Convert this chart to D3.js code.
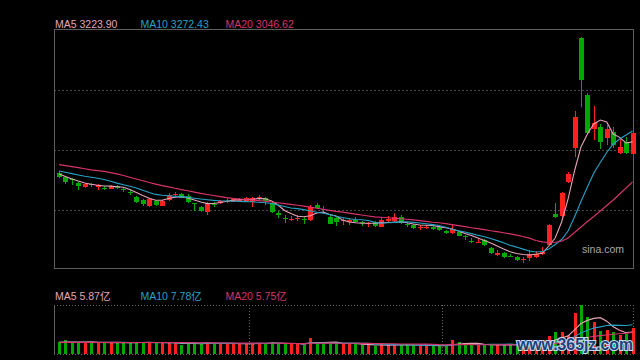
<!DOCTYPE html>
<html><head><meta charset="utf-8">
<script src="https://cdn.jsdelivr.net/npm/d3@7"></script>
<style>html,body{margin:0;padding:0;background:#000;}svg{display:block;}</style>
</head><body>
<svg id="c" width="640" height="360"></svg>
<script>
// ---- data ----
const days = d3.range(90);
const open = [
3086,3068,3060,3042,3026,3037,3024,3020,3017,3029,
3015,3002,2980,2967,2942,2960,2940,2967,2989,2993,
2984,2953,2935,2915,2951,2952,2958,2959,2963,2963,
2958,2971,2975,2953,2907,2887,2880,2884.5,2882,2878,
2944,2927,2893,2885,2873,2869,2880,2869,2860,2869,
2849,2873,2873,2891,2862,2856,2845,2842.5,2847,2845,
2827,2820,2825,2807,2785,2776,2789,2754,2723,2732,
2720.6,2714,2701,2710,2714,2727,2767,2904.5,2896,3046,
3197,3684,3432,3281,3290,3241,3268,3175,3223,3170];
const high = [
3095,3073,3064,3046,3042,3042,3037,3029,3033,3033,
3024,3011,2984,2971,2975,2967,2967,2998,3003,2998,
2993,2955,2940,2958,2959,2966.5,2974,2975,2974,2980,
2980,2989,2980,2958,2918,2900,2896,2900,2891,2944,
2953,2940,2904,2896,2887,2887,2891,2873,2869,2873,
2891,2896,2909,2900,2869,2860,2856,2856,2851,2851,
2834,2862,2829,2811.5,2798,2794,2794,2758,2745,2736,
2727,2718,2714,2745,2741,2758,2860,2953,3002,3091,
3361,3689,3441,3383,3303,3299,3290,3241,3246,3317];
const low = [
3064,3037,3033,3011,3020,3024,3013,3011,3015,3015,
3002,2989,2955,2940,2935,2942,2938,2964,2984,2975,
2955,2919,2915,2900,2937,2949,2955,2958,2959,2962,
2935,2966.5,2944,2911,2887,2865,2873,2873,2860,2873,
2927,2909,2858,2851,2856,2856,2865,2851,2847,2847,
2847,2869,2869,2860,2847,2840,2834,2838,2834,2829,
2816,2816,2805,2789,2776,2774,2763,2727,2718,2710,
2714,2696,2687,2696,2710,2723,2763,2887,2891,3042,
3157,3379,3259,3232,3192,3210,3197,3170,3170,3153];
const close = [
3068,3046,3055,3029,3037,3031,3033,3017,3029,3020,
3009,2998,2958,2951,2971,2944,2960,2989,2993,2977,
2959,2949,2919,2954,2947,2962,2963,2970,2968,2974,
2976,2978,2962,2913,2900,2882,2884.5,2889,2878,2936,
2931,2922,2860,2869,2878,2878,2869,2865,2865,2851,
2878,2882,2891,2865,2858,2842.5,2849,2849,2838,2834,
2822.5,2838,2807,2803,2780,2780,2767,2732,2732,2714,
2716,2701,2705,2727,2727,2736,2856,2893,2998,3082,
3334,3498,3263,3308,3223,3281,3210,3201,3175,3263];
const ma5 = [
3081.7,3070.6,3059.5,3050.7,3041.8,3036.1,3031.7,3028.5,3028.1,3025.4,
3022.8,3013.0,2999.7,2986.4,2974.0,2965.2,2965.2,2973.1,2978.9,2981.1,
2975.4,2966.5,2957.6,2950.6,2951.0,2955.4,2961.2,2965.6,2968.3,2967.4,
2969.6,2973.1,2971.8,2962.1,2944.3,2920.0,2906.7,2894.3,2892.5,2896.5,
2908.9,2913.3,2902.3,2895.6,2877.9,2869.0,2865.5,2863.7,2863.3,2863.7,
2865.5,2866.8,2868.1,2869.9,2865.5,2860.2,2855.8,2854.9,2853.5,2848.2,
2843.3,2838.0,2829.2,2818.1,2809.3,2798.2,2787.1,2776.0,2762.7,2749.4,
2737.5,2729.5,2725.1,2722.9,2726.4,2730.4,2762.7,2798.2,2869.0,2970.9,
3095.0,3201.3,3258.9,3303.2,3320.9,3312.0,3258.9,3243.9,3219.0,3223.9];
const ma10 = [
3095.0,3089.2,3083.5,3077.3,3071.5,3067.1,3063.1,3057.3,3049.4,3041.4,
3034.3,3027.6,3020.1,3009.5,2999.7,2991.3,2987.3,2985.1,2983.3,2981.6,
2978.0,2974.5,2970.9,2967.8,2964.7,2963.0,2962.1,2961.2,2960.3,2959.4,
2958.5,2956.3,2954.1,2951.0,2944.3,2937.7,2931.1,2928.4,2924.0,2917.8,
2912.0,2908.0,2902.3,2894.7,2889.0,2883.2,2880.1,2878.8,2875.7,2867.7,
2863.7,2865.5,2867.3,2869.0,2869.9,2867.3,2864.6,2861.1,2857.5,2853.5,
2846.0,2837.1,2829.6,2824.7,2817.6,2810.6,2803.5,2796.4,2786.6,2776.9,
2765.8,2757.9,2749.0,2740.6,2736.1,2738.4,2749.4,2769.4,2791.5,2829.2,
2891.2,2959.9,3024.1,3086.1,3132.6,3176.9,3214.6,3236.7,3254.5,3272.43];
const ma20 = [
3123.3,3118.9,3114.5,3110.0,3104.7,3099.8,3096.7,3093.2,3087.9,3082.1,
3075.0,3067.5,3059.5,3051.5,3044.0,3036.9,3030.3,3024.5,3018.8,3012.6,
3007.3,3001.5,2995.7,2990.9,2986.4,2981.6,2977.1,2973.6,2970.9,2968.7,
2966.5,2963.9,2960.8,2957.6,2954.1,2950.6,2947.0,2943.0,2939.5,2935.0,
2930.2,2925.3,2920.4,2916.0,2912.9,2908.5,2904.0,2900.0,2895.6,2891.6,
2889.9,2887.6,2885.4,2883.2,2881.0,2878.4,2875.2,2871.7,2868.2,2865.5,
2861.9,2857.5,2853.1,2848.7,2843.3,2839.8,2835.4,2830.5,2826.5,2821.6,
2816.3,2811.0,2805.2,2797.7,2787.1,2780.9,2778.2,2779.6,2784.0,2798.2,
2822.5,2846.9,2871.2,2893.4,2917.8,2942.1,2966.5,2993.1,3019.7,3046.62];
// volume in 亿
const volume = [
3.1,3.6,3.2,3.1,3.0,3.2,3.0,3.1,2.9,3.0,
3.0,2.9,3.3,3.1,3.2,2.8,3.0,3.1,2.9,2.4,
2.9,2.8,2.7,3.3,2.7,2.9,2.6,2.8,2.7,2.6,
3.0,2.9,2.8,3.3,2.7,2.6,2.6,2.7,2.5,4.3,
3.1,2.6,3.0,2.8,2.7,2.8,2.6,2.3,2.4,2.1,
2.6,2.4,2.4,2.4,2.4,2.4,2.3,2.3,2.1,2.1,
2.1,3.8,3.2,2.6,2.4,2.4,2.4,2.5,2.3,2.4,
2.5,2.6,2.7,2.8,2.7,2.8,4.7,5.75,5.75,5.0,
11.0,13.06,9.97,8.4,6.0,6.3,5.75,5.1,5.3,6.8];
const volMa5 = [
3.1,3.2,3.2,3.2,3.2,3.22,3.1,3.08,3.04,3.04,
3.0,2.98,3.02,3.06,3.1,3.06,3.08,3.04,3.0,2.84,
2.86,2.82,2.74,2.82,2.88,2.88,2.84,2.86,2.74,2.72,
2.74,2.8,2.8,2.92,2.94,2.86,2.8,2.78,2.62,2.94,
3.04,3.04,3.1,3.16,2.84,2.78,2.78,2.64,2.56,2.44,
2.4,2.36,2.38,2.38,2.44,2.4,2.38,2.36,2.3,2.24,
2.18,2.48,2.66,2.76,2.82,2.88,2.6,2.46,2.4,2.4,
2.42,2.46,2.5,2.6,2.66,2.72,3.14,3.75,4.34,4.8,
6.44,8.11,8.96,9.49,9.69,8.75,7.28,6.31,5.69,5.87];
const volMa10 = [
3.1,3.15,3.15,3.15,3.15,3.15,3.14,3.14,3.13,3.12,
3.11,3.04,3.05,3.05,3.07,3.03,3.03,3.03,3.03,2.97,
2.96,2.95,2.89,2.91,2.86,2.87,2.83,2.80,2.78,2.80,
2.81,2.82,2.83,2.83,2.83,2.80,2.80,2.79,2.77,2.94,
2.95,2.92,2.94,2.89,2.89,2.91,2.91,2.87,2.86,2.64,
2.59,2.57,2.51,2.47,2.44,2.40,2.37,2.37,2.34,2.34,
2.29,2.43,2.51,2.53,2.53,2.53,2.54,2.56,2.58,2.61,
2.65,2.53,2.48,2.50,2.53,2.57,2.80,3.13,3.47,3.73,
4.58,5.63,6.35,6.91,7.24,7.59,7.70,7.63,7.59,7.78];
const volMa20 = [
3.1,3.1,3.1,3.1,3.1,3.1,3.1,3.1,3.1,3.1,
3.08,3.08,3.07,3.07,3.07,3.06,3.06,3.06,3.05,3.05,
3.04,3.00,2.97,2.98,2.97,2.95,2.93,2.92,2.91,2.89,
2.89,2.89,2.86,2.87,2.85,2.84,2.82,2.80,2.78,2.87,
2.88,2.87,2.89,2.86,2.86,2.86,2.86,2.83,2.82,2.79,
2.77,2.75,2.73,2.68,2.67,2.66,2.64,2.62,2.60,2.49,
2.44,2.50,2.51,2.50,2.49,2.47,2.46,2.47,2.46,2.48,
2.47,2.48,2.50,2.52,2.53,2.55,2.67,2.84,3.03,3.17,
3.62,4.08,4.42,4.71,4.89,5.08,5.25,5.38,5.53,5.75];
const priceLegend = [["MA5", "3223.90"], ["MA10", "3272.43"], ["MA20", "3046.62"]];
const volLegend = [["MA5", "5.87亿"], ["MA10", "7.78亿"], ["MA20", "5.75亿"]];
const gridPrices = [3453.8, 3188.0, 2922.2];
const priceDomain = [2665.3, 3724];
const volDomain = [0, 13.06];
const dividers = [29, 59];
const sourceLabel = "sina.com";
const watermark = "www.365jz.com";

// ---- styles ----
const C = {
  up: "#ff2020", down: "#00a800",
  ma5: "#e6a3b8", ma10: "#25a3c6", ma20: "#d8336c",
  border: "#5e5e5e", grid: "#4a4a4a"
};
const maColors = [C.ma5, C.ma10, C.ma20];

const svg = d3.select("#c");
svg.append("rect").attr("width", 640).attr("height", 360).attr("fill", "#000");

const L = 54, R = 634, T = 29, B = 268;
const VT = 305, VB = 354;

const x = d3.scalePoint().domain(days).range([59, 632.5]);
const step = x.step();
const y = d3.scaleLinear().domain(priceDomain).range([B, T]);
const vy = d3.scaleLinear().domain(volDomain).range([VB, VT]);

// main grid
svg.append("g").selectAll("line").data(gridPrices).join("line")
  .attr("x1", L).attr("x2", R)
  .attr("y1", d => Math.round(y(d)) + 0.5).attr("y2", d => Math.round(y(d)) + 0.5)
  .attr("stroke", C.grid).attr("stroke-width", 1).attr("stroke-dasharray", "2,2");

// main border
svg.append("rect").attr("x", L + 0.5).attr("y", T + 0.5).attr("width", R - L - 1).attr("height", B - T)
  .attr("fill", "none").attr("stroke", C.border).attr("stroke-width", 1);

const isUp = i => close[i] >= open[i];
const col = i => isUp(i) ? C.up : C.down;

// candles
const cg = svg.append("g").attr("shape-rendering", "crispEdges");
cg.selectAll("line").data(days).join("line")
  .attr("x1", i => Math.round(x(i)) + 0.5).attr("x2", i => Math.round(x(i)) + 0.5)
  .attr("y1", i => y(high[i])).attr("y2", i => y(low[i]))
  .attr("stroke", col).attr("stroke-width", 1);
const bw = 5;
cg.selectAll("rect").data(days).join("rect")
  .attr("x", i => Math.round(x(i)) - 2)
  .attr("y", i => y(Math.max(open[i], close[i])))
  .attr("width", bw)
  .attr("height", i => Math.max(1, Math.abs(y(open[i]) - y(close[i]))))
  .attr("fill", col);

// price MAs
const line = d3.line().x((d, i) => x(i)).y(d => y(d));
[ma5, ma10, ma20].forEach((arr, k) => {
  svg.append("path").datum(arr).attr("d", line)
    .attr("fill", "none").attr("stroke", maColors[k]).attr("stroke-width", 1.1);
});

// legends
function legend(items, yy) {
  const xs = [55, 140.5, 225.5];
  svg.append("g").selectAll("text").data(items).join("text")
    .attr("x", (d, k) => xs[k]).attr("y", yy)
    .attr("fill", (d, k) => maColors[k])
    .attr("font-family", "'Liberation Sans', Arial, 'Noto Sans CJK SC', sans-serif")
    .attr("font-size", 10.5)
    .text(d => d[0] + " " + d[1]);
}
legend(priceLegend, 27.5);
legend(volLegend, 300);

svg.append("text").attr("x", 582).attr("y", 253).attr("fill", "#a8a8a8")
  .attr("font-family", "'Liberation Sans', Arial, sans-serif").attr("font-size", 10.5)
  .text(sourceLabel);

// volume panel frame
const fg = svg.append("g").attr("shape-rendering", "crispEdges");
fg.append("line").attr("x1", L + 0.5).attr("x2", L + 0.5).attr("y1", VT).attr("y2", VB + 1)
  .attr("stroke", C.border);
[[L, VT + 0.5, R, VT + 0.5], [L, VB + 0.5, R, VB + 0.5], [R - 0.5, VT, R - 0.5, VB]].forEach(s => {
  fg.append("line").attr("x1", s[0]).attr("y1", s[1]).attr("x2", s[2]).attr("y2", s[3])
    .attr("stroke", "#6a6a6a").attr("stroke-dasharray", "1,2");
});
fg.selectAll("line.div").data(dividers).join("line").attr("class", "div")
  .attr("x1", d => Math.round(x(d) + step / 2) + 0.5).attr("x2", d => Math.round(x(d) + step / 2) + 0.5)
  .attr("y1", VT).attr("y2", VB)
  .attr("stroke", "#6a6a6a").attr("stroke-dasharray", "1,2");

// volume bars
svg.append("g").attr("shape-rendering", "crispEdges").selectAll("rect").data(days).join("rect")
  .attr("x", i => Math.round(x(i)) - 1)
  .attr("y", i => vy(volume[i]))
  .attr("width", 3)
  .attr("height", i => VB - vy(volume[i]))
  .attr("fill", col);

// volume MAs
const vline = d3.line().x((d, i) => x(i)).y(d => vy(d));
[volMa5, volMa10, volMa20].forEach((arr, k) => {
  svg.append("path").datum(arr).attr("d", vline)
    .attr("fill", "none").attr("stroke", maColors[k]).attr("stroke-width", 1.1);
});

// watermark
svg.append("text").attr("x", 517).attr("y", 350)
  .attr("font-family", "'Liberation Sans', Arial, sans-serif").attr("font-weight", "bold")
  .attr("font-size", 16).attr("fill", "#1f3f78")
  .attr("stroke", "#c8d8ec").attr("stroke-width", 2.2).attr("paint-order", "stroke")
  .attr("textLength", 116).attr("lengthAdjust", "spacingAndGlyphs")
  .text(watermark);
</script>
</body></html>
